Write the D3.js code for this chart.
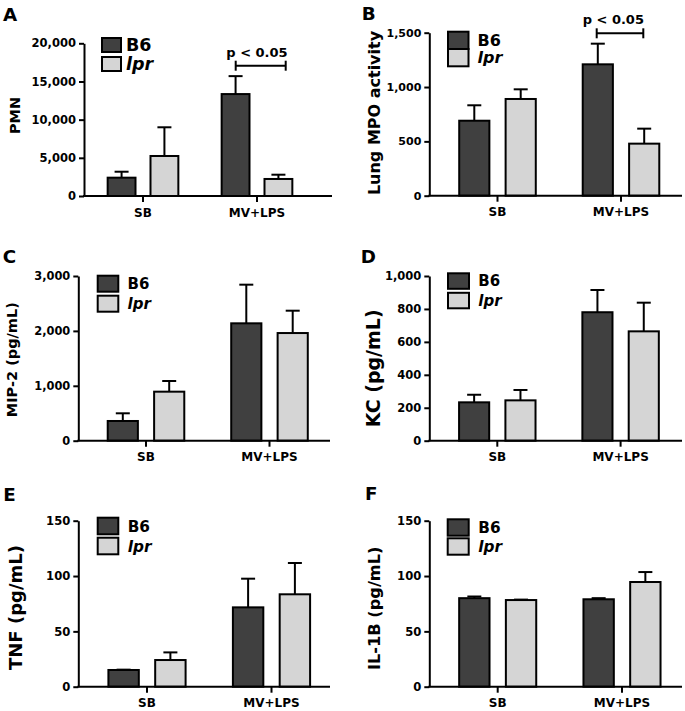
<!DOCTYPE html>
<html>
<head>
<meta charset="utf-8">
<script src="https://cdn.jsdelivr.net/npm/d3@7"></script>
<style>
  html, body { margin: 0; padding: 0; background: #fff; }
  svg { display: block; }
  text { font-family: "DejaVu Sans", "Liberation Sans", sans-serif; font-weight: bold; }
</style>
</head>
<body>
<svg id="chart" width="685" height="711"></svg>
<script>
// ---------------- DATA ----------------
const categories = ["SB", "MV+LPS"];
const series = ["B6", "lpr"];

// A: PMN
const pmnB6 = [2400, 13350];
const pmnB6Sem = [780, 2350];
const pmnLpr = [5240, 2230];
const pmnLprSem = [3760, 560];
const pmnTicks = [0, 5000, 10000, 15000, 20000];

// B: Lung MPO activity
const mpoB6 = [690, 1209];
const mpoB6Sem = [142, 190];
const mpoLpr = [890, 479];
const mpoLprSem = [89, 138];
const mpoTicks = [0, 500, 1000, 1500];

// C: MIP-2 (pg/mL)
const mip2B6 = [359, 2138];
const mip2B6Sem = [140, 704];
const mip2Lpr = [893, 1961];
const mip2LprSem = [194, 407];
const mip2Ticks = [0, 1000, 2000, 3000];

// D: KC (pg/mL)
const kcB6 = [233, 780];
const kcB6Sem = [46, 135];
const kcLpr = [245, 664];
const kcLprSem = [63, 174];
const kcTicks = [0, 200, 400, 600, 800, 1000];

// E: TNF (pg/mL)
const tnfB6 = [15.1, 71.7];
const tnfB6Sem = [0.3, 25.9];
const tnfLpr = [24.1, 83.5];
const tnfLprSem = [6.9, 28.3];
const tnfTicks = [0, 50, 100, 150];

// F: IL-1B (pg/mL)
const il1bB6 = [80, 79];
const il1bB6Sem = [1.5, 1.0];
const il1bLpr = [78.3, 94.6];
const il1bLprSem = [0.4, 9.0];
const il1bTicks = [0, 50, 100, 150];

// ---------------- STYLE / LAYOUT ----------------
const fills = { B6: "#404040", lpr: "#d5d5d5" };

const panels = [
  { letter: "A", ylabel: "PMN", b6: pmnB6, b6Sem: pmnB6Sem, lpr: pmnLpr, lprSem: pmnLprSem, ticks: pmnTicks,
    ax: 84, axEnd: 332, yTop: 43.3, y0: 196, firstCenter: 143, step: 114, tickFont: 11.5,
    letterPos: [3, 21], ylab: { x: 20, y: 115.5, size: 14.5 },
    legend: { x: 102, y: 38, w: 19, h: 14, gap: 5, tx: 126, size: 17.5 },
    bracket: { from: -21.3, to: 28.7, y: 65.7, tx: 0, ty: 57 } },
  { letter: "B", ylabel: "Lung MPO activity", b6: mpoB6, b6Sem: mpoB6Sem, lpr: mpoLpr, lprSem: mpoLprSem, ticks: mpoTicks,
    ax: 429.3, axEnd: 682, yTop: 32.7, y0: 195.7, firstCenter: 497.5, step: 123.5, tickFont: 11,
    letterPos: [361.7, 20], ylab: { x: 380, y: 113, size: 16 },
    legend: { x: 448, y: 31.7, w: 20.5, h: 17.3, gap: 0, tx: 477.5, size: 16 },
    bracket: { from: -24.3, to: 22.3, y: 33.3, tx: -7.7, ty: 24 } },
  { letter: "C", ylabel: "MIP-2 (pg/mL)", b6: mip2B6, b6Sem: mip2B6Sem, lpr: mip2Lpr, lprSem: mip2LprSem, ticks: mip2Ticks,
    ax: 78.3, axEnd: 330, yTop: 276, y0: 440.7, firstCenter: 146, step: 123.5, tickFont: 11.4,
    letterPos: [2.7, 263.3], ylab: { x: 16.5, y: 359.7, size: 14.5 },
    legend: { x: 97.7, y: 275.7, w: 20.6, h: 16, gap: 4, tx: 127.5, size: 15 } },
  { letter: "D", ylabel: "KC (pg/mL)", b6: kcB6, b6Sem: kcB6Sem, lpr: kcLpr, lprSem: kcLprSem, ticks: kcTicks,
    ax: 429.3, axEnd: 682, yTop: 276, y0: 440.7, firstCenter: 497.3, step: 123.3, tickFont: 11.5,
    letterPos: [360.7, 263.3], ylab: { x: 380, y: 368.3, size: 19 },
    legend: { x: 448, y: 273.3, w: 21, h: 15.5, gap: 4, tx: 478.3, size: 15 } },
  { letter: "E", ylabel: "TNF (pg/mL)", b6: tnfB6, b6Sem: tnfB6Sem, lpr: tnfLpr, lprSem: tnfLprSem, ticks: tnfTicks,
    ax: 78.3, axEnd: 330, yTop: 520.7, y0: 686.7, firstCenter: 147, step: 124.5, tickFont: 11.6,
    letterPos: [3.3, 500.7], ylab: { x: 21.5, y: 607.5, size: 18 },
    legend: { x: 97.7, y: 517.7, w: 20.6, h: 16.6, gap: 3.4, tx: 127.7, size: 15.3 } },
  { letter: "F", ylabel: "IL-1B (pg/mL)", b6: il1bB6, b6Sem: il1bB6Sem, lpr: il1bLpr, lprSem: il1bLprSem, ticks: il1bTicks,
    ax: 429.3, axEnd: 682, yTop: 520.7, y0: 686.7, firstCenter: 497.7, step: 124.3, tickFont: 11.6,
    letterPos: [365, 500], ylab: { x: 380, y: 608.3, size: 16.2 },
    legend: { x: 447.7, y: 519.3, w: 21, h: 16.4, gap: 2.6, tx: 478.3, size: 15.3 } }
];

// ---------------- DRAW ----------------
const svg = d3.select("#chart");
svg.append("rect").attr("width", 685).attr("height", 711).attr("fill", "#fff");

function drawPanel(p) {
  const g = svg.append("g");
  const y = d3.scaleLinear().domain([0, d3.max(p.ticks)]).range([p.y0, p.yTop]);
  const x0 = d3.scaleBand().domain(categories)
    .range([p.firstCenter - p.step / 2, p.firstCenter + p.step * 1.5]);
  const innerW = p.step * 0.62;
  const x1 = d3.scaleBand().domain(series).range([-innerW / 2, innerW / 2]).paddingInner(0.35);
  const center = c => x0(c) + x0.bandwidth() / 2;

  // panel letter
  g.append("text").attr("x", p.letterPos[0]).attr("y", p.letterPos[1])
    .attr("font-size", 18.3).attr("fill", "#000").text(p.letter);

  // y label
  g.append("text")
    .attr("transform", `translate(${p.ylab.x},${p.ylab.y}) rotate(-90)`)
    .attr("text-anchor", "middle").attr("font-size", p.ylab.size).attr("fill", "#000")
    .text(p.ylabel);

  // data rows
  const rows = [];
  categories.forEach((c, i) => {
    rows.push({ cat: c, s: "B6", v: p.b6[i], e: p.b6Sem[i] });
    rows.push({ cat: c, s: "lpr", v: p.lpr[i], e: p.lprSem[i] });
  });
  const bx = d => center(d.cat) + x1(d.s);
  const bc = d => bx(d) + x1.bandwidth() / 2;

  // error bars
  const eg = g.append("g").attr("stroke", "#000").attr("stroke-width", 2);
  eg.selectAll("line.v").data(rows).join("line")
    .attr("x1", bc).attr("x2", bc).attr("y1", d => y(d.v)).attr("y2", d => y(d.v + d.e));
  eg.selectAll("line.c").data(rows).join("line")
    .attr("x1", d => bc(d) - 7).attr("x2", d => bc(d) + 7)
    .attr("y1", d => y(d.v + d.e)).attr("y2", d => y(d.v + d.e));

  // bars
  g.append("g").selectAll("rect").data(rows).join("rect")
    .attr("x", bx).attr("width", x1.bandwidth())
    .attr("y", d => y(d.v)).attr("height", d => y(0) - y(d.v))
    .attr("fill", d => fills[d.s]).attr("stroke", "#000").attr("stroke-width", 2);

  // x axis baseline
  g.append("line").attr("x1", p.ax - 1).attr("x2", p.axEnd)
    .attr("y1", y(0)).attr("y2", y(0)).attr("stroke", "#000").attr("stroke-width", 2);

  // x axis ticks & labels
  const xa = g.append("g").attr("transform", `translate(0,${y(0)})`)
    .call(d3.axisBottom(x0).tickSize(6).tickPadding(6));
  xa.select(".domain").remove();
  xa.attr("font-family", null).attr("font-size", 12);
  xa.selectAll("line").attr("stroke-width", 2);
  xa.selectAll("text").attr("fill", "#000");

  // y axis
  const ya = g.append("g").attr("transform", `translate(${p.ax},0)`)
    .call(d3.axisLeft(y).tickValues(p.ticks).tickFormat(d3.format(",")).tickSize(5).tickSizeOuter(0).tickPadding(3));
  ya.attr("font-family", null).attr("font-size", p.tickFont);
  ya.select(".domain").attr("stroke-width", 2);
  ya.selectAll("line").attr("stroke-width", 2);
  ya.selectAll("text").attr("fill", "#000");

  // legend
  const L = p.legend;
  series.forEach((s, i) => {
    const top = L.y + i * (L.h + L.gap);
    g.append("rect").attr("x", L.x).attr("y", top).attr("width", L.w).attr("height", L.h)
      .attr("fill", fills[s]).attr("stroke", "#000").attr("stroke-width", 2);
    g.append("text").attr("x", L.tx).attr("y", top + L.h / 2 + 0.36 * L.size)
      .attr("font-size", L.size).attr("fill", "#000")
      .attr("font-style", s === "lpr" ? "italic" : "normal").text(s);
  });

  // significance bracket
  if (p.bracket) {
    const B = p.bracket, c = center(categories[1]);
    const bg = g.append("g").attr("stroke", "#000").attr("stroke-width", 2);
    bg.append("line").attr("x1", c + B.from).attr("x2", c + B.to).attr("y1", B.y).attr("y2", B.y);
    bg.append("line").attr("x1", c + B.from).attr("x2", c + B.from).attr("y1", B.y - 5).attr("y2", B.y + 5);
    bg.append("line").attr("x1", c + B.to).attr("x2", c + B.to).attr("y1", B.y - 5).attr("y2", B.y + 5);
    g.append("text").attr("x", c + B.tx).attr("y", B.ty).attr("text-anchor", "middle")
      .attr("font-size", 13).attr("fill", "#000").text("p < 0.05");
  }
}

panels.forEach(drawPanel);
</script>
</body>
</html>
